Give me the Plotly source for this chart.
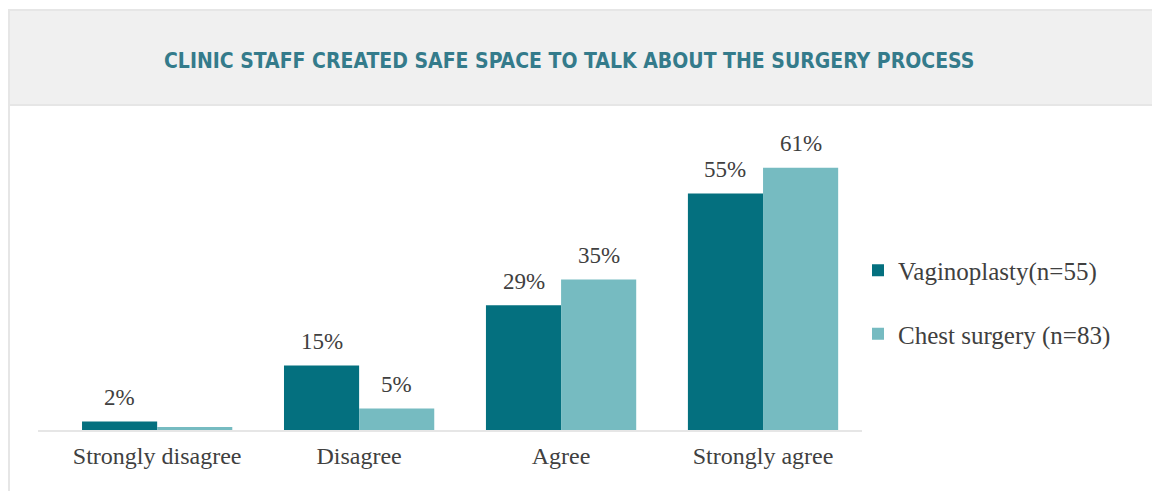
import plotly.graph_objects as go

categories = ["Strongly disagree", "Disagree", "Agree", "Strongly agree"]
vagino = [2, 15, 29, 55]
chest = [0.7, 5, 35, 61]
vagino_labels = ["2%", "15%", "29%", "55%"]
chest_labels = ["", "5%", "35%", "61%"]
series_names = ["Vaginoplasty(n=55)", "Chest surgery (n=83)"]
title_text = "CLINIC STAFF CREATED SAFE SPACE TO TALK ABOUT THE SURGERY PROCESS"

OFF = 8  # page body margin
W, H = 1160 - OFF, 491 - OFF
L, B = 38 - OFF, 491 - 430
pw, ph = 824, 301
R = W - L - pw
T = H - B - ph
XR = [-0.59, 3.49]
BARGAP = 0.256

def px_x(p):
    return (p - OFF - L) / pw

def px_y(p):
    return (H - B - (p - OFF)) / ph

serif = "Liberation Serif"
txt_col = "#404040"

fig = go.Figure()
fig.add_trace(go.Bar(x=categories, y=vagino, name=series_names[0],
                     marker=dict(color="#04707f", line=dict(width=0)), legendgroup="a"))
fig.add_trace(go.Bar(x=categories, y=chest, name=series_names[1],
                     marker=dict(color="#76bbc1", line=dict(width=0)), legendgroup="b"))

# value labels above bars (half a bar width left/right of the category centre)
bar_px = (1 - BARGAP) / 2 * pw / (XR[1] - XR[0])
annotations = []
for vals, labs, sign in ((vagino, vagino_labels, -1), (chest, chest_labels, 1)):
    for c, v, t in zip(categories, vals, labs):
        if t:
            annotations.append(dict(x=c, y=v, xref="x", yref="y", text=t, showarrow=False,
                                    xanchor="center", yanchor="middle",
                                    xshift=sign * bar_px / 2, yshift=24,
                                    font=dict(family=serif, size=23, color=txt_col)))
annotations.append(dict(text="<b>" + title_text + "</b>", xref="paper", yref="paper",
                        x=px_x(569), y=px_y(61), xanchor="center", yanchor="middle",
                        showarrow=False,
                        font=dict(family="DejaVu Sans Condensed", size=21, color="#347b8b")))

fig.update_layout(
    width=W, height=H,
    margin=dict(l=L, r=R, t=T, b=B),
    paper_bgcolor="white", plot_bgcolor="white",
    barmode="group", bargap=BARGAP, bargroupgap=0,
    showlegend=True,
    legend=dict(x=px_x(858), y=px_y(302), xanchor="left", yanchor="middle",
                font=dict(family=serif, size=25, color=txt_col),
                tracegroupgap=28, itemwidth=30, bgcolor="rgba(0,0,0,0)"),
    xaxis=dict(range=XR, showline=True, linecolor="#e6e6e6", linewidth=2,
               showgrid=False, zeroline=False, ticks="",
               tickfont=dict(family=serif, size=24, color=txt_col), ticklabelstandoff=3),
    yaxis=dict(range=[0, 70], visible=False, showgrid=False, zeroline=False),
    font=dict(family=serif),
    shapes=[
        dict(type="rect", xref="paper", yref="paper", layer="below",
             x0=px_x(9), x1=px_x(1175), y0=px_y(505), y1=px_y(10),
             line=dict(color="#e6e6e6", width=2), fillcolor="white"),
        dict(type="rect", xref="paper", yref="paper", layer="below",
             x0=px_x(9), x1=px_x(1175), y0=px_y(105), y1=px_y(10),
             line=dict(color="#e6e6e6", width=2), fillcolor="#f0f0f0"),
    ],
    annotations=annotations,
)

fig.write_html("out.html")
